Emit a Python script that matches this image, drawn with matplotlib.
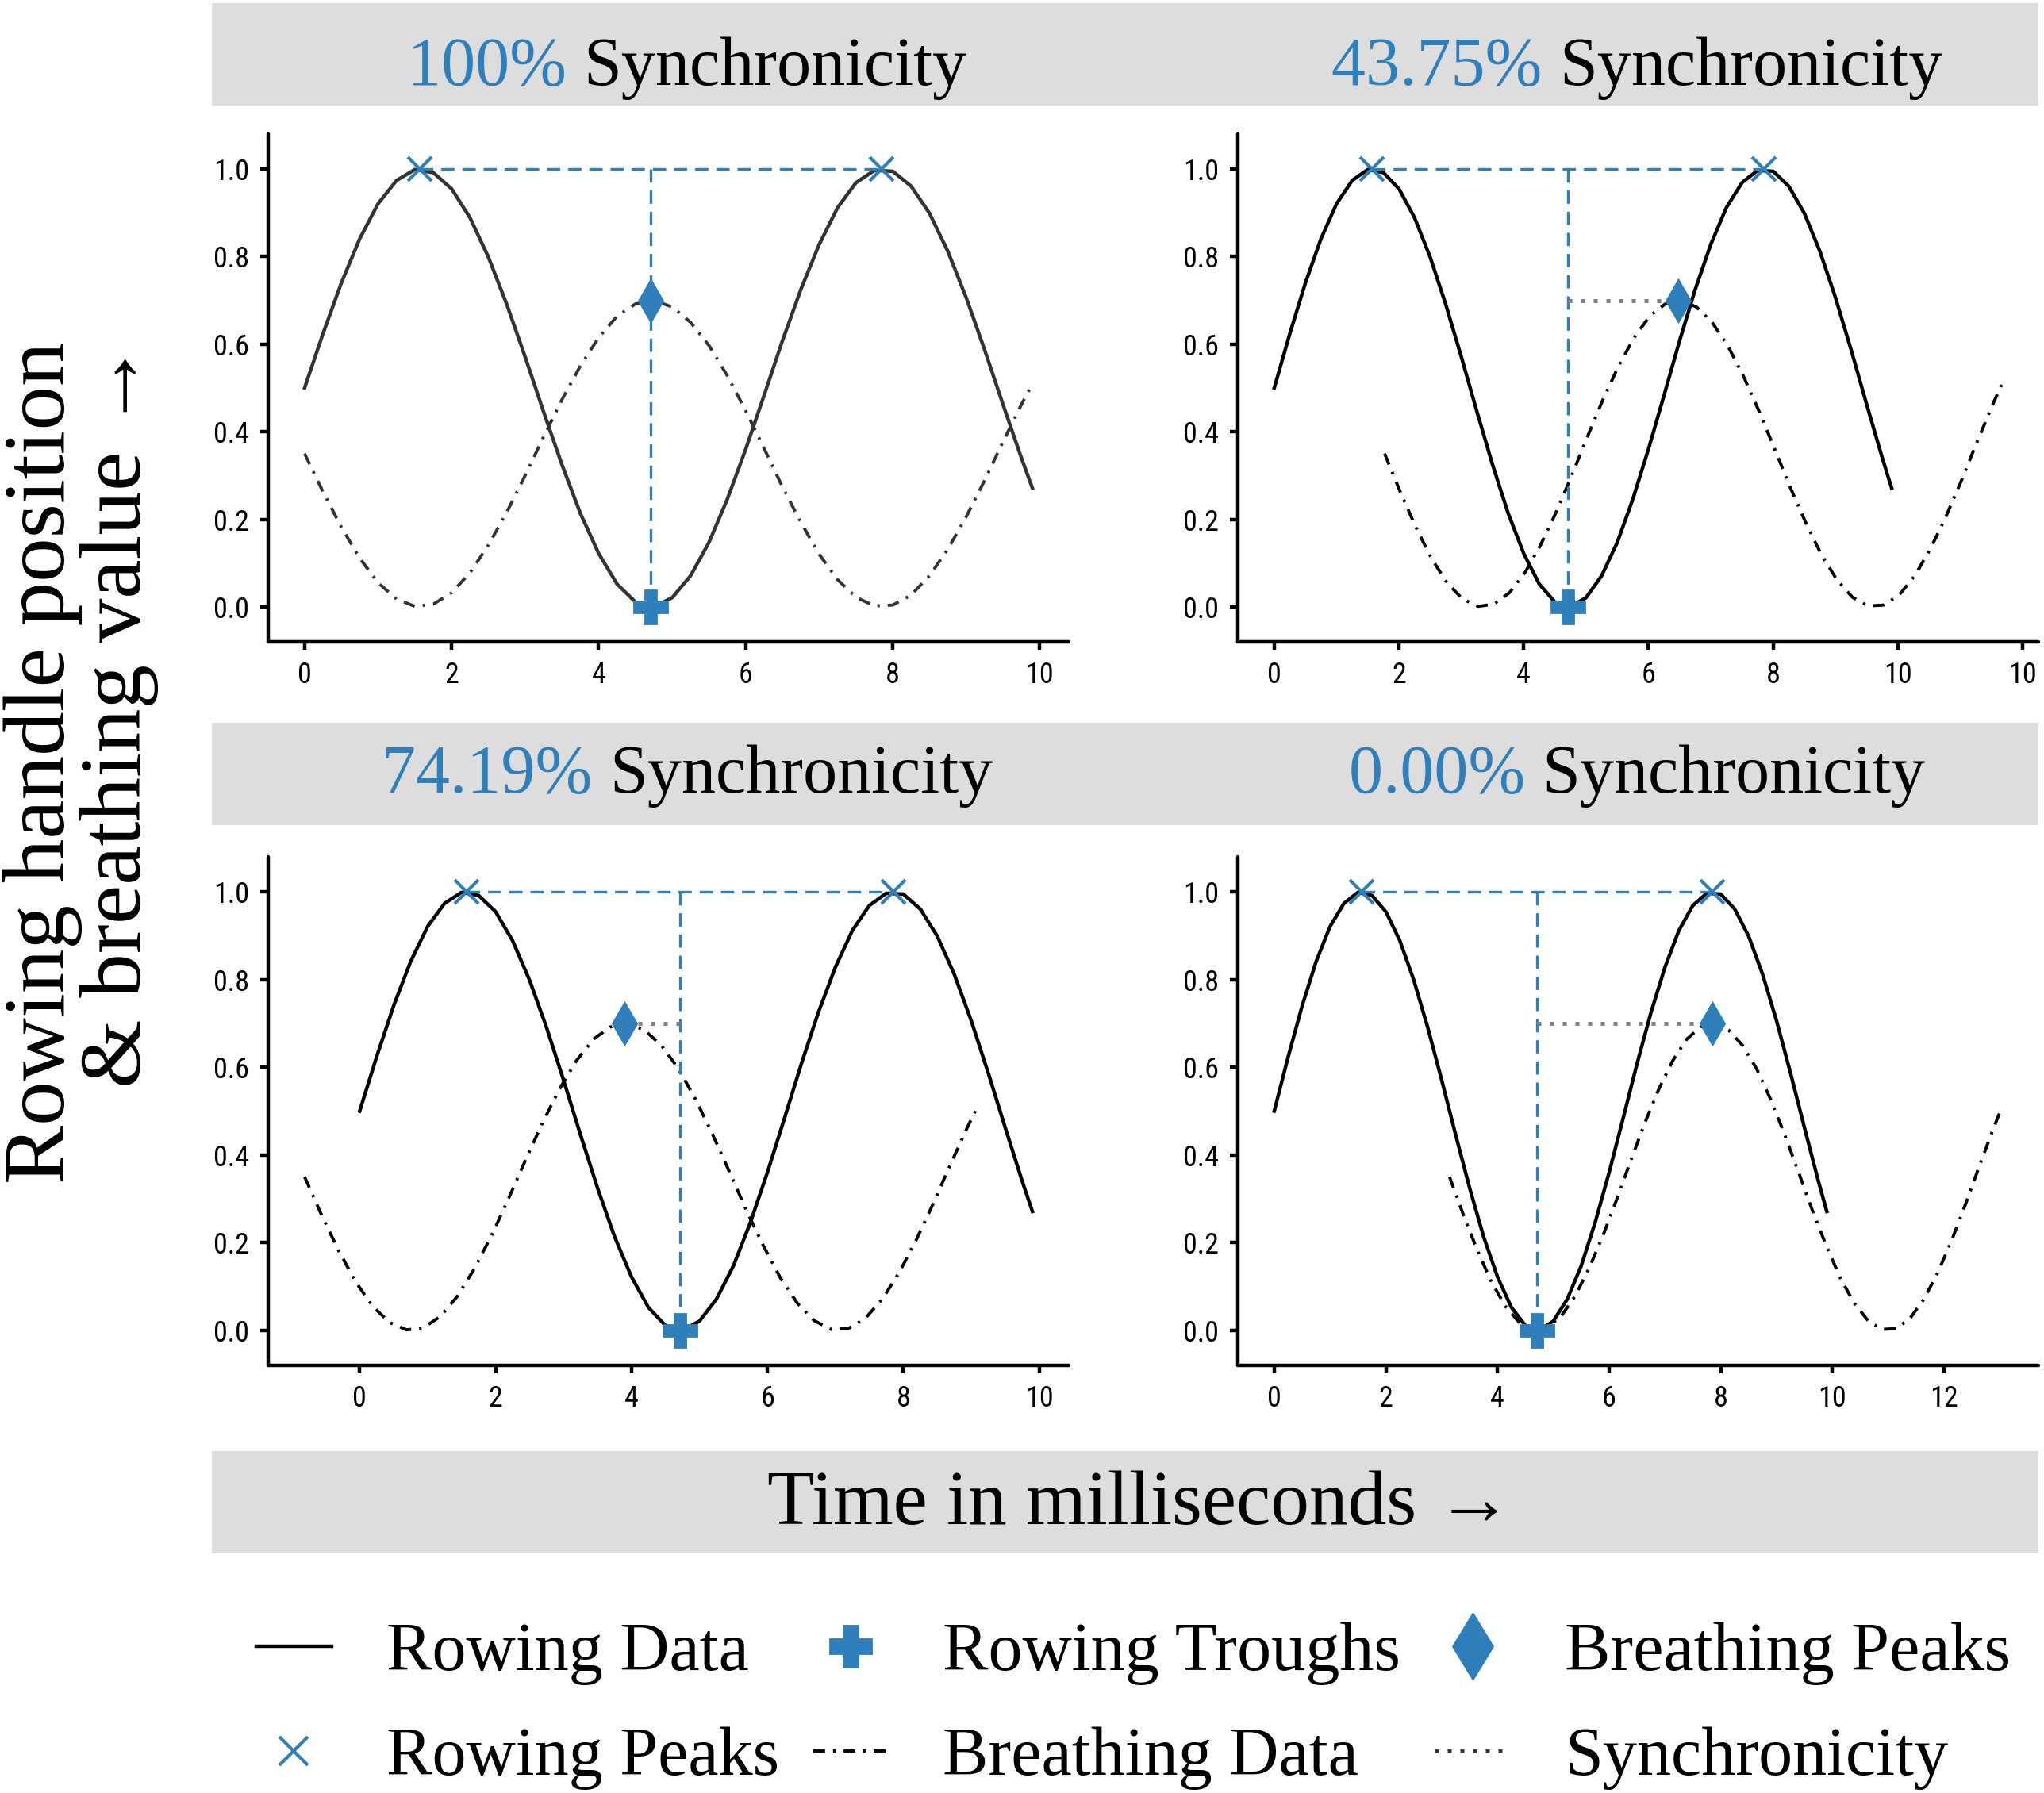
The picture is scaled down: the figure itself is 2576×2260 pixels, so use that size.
import matplotlib
matplotlib.use("Agg")
import matplotlib.pyplot as plt
from matplotlib.lines import Line2D
from matplotlib.patches import Rectangle
from matplotlib.ticker import FormatStrFormatter

time_ms = [0.0, 0.25, 0.5, 0.75, 1.0, 1.25, 1.5, 1.75, 2.0, 2.25, 2.5, 2.75,
           3.0, 3.25, 3.5, 3.75, 4.0, 4.25, 4.5, 4.75, 5.0, 5.25, 5.5, 5.75,
           6.0, 6.25, 6.5, 6.75, 7.0, 7.25, 7.5, 7.75, 8.0, 8.25, 8.5, 8.75,
           9.0, 9.25, 9.5, 9.75, 9.9]
rowing = [0.500, 0.624, 0.740, 0.841, 0.921, 0.974, 0.999, 0.992, 0.955, 0.889,
          0.799, 0.691, 0.571, 0.446, 0.325, 0.214, 0.122, 0.052, 0.011, 0.000,
          0.021, 0.071, 0.147, 0.246, 0.360, 0.483, 0.608, 0.725, 0.828, 0.912,
          0.969, 0.997, 0.995, 0.961, 0.899, 0.812, 0.706, 0.587, 0.462, 0.340,
          0.271]
breathing = [0.350, 0.263, 0.182, 0.111, 0.055, 0.018, 0.001, 0.006, 0.032, 0.078,
             0.141, 0.216, 0.300, 0.388, 0.473, 0.550, 0.615, 0.664, 0.692, 0.700,
             0.685, 0.650, 0.597, 0.528, 0.448, 0.362, 0.274, 0.193, 0.120, 0.062,
             0.022, 0.002, 0.004, 0.027, 0.071, 0.132, 0.206, 0.289, 0.377, 0.462,
             0.510]

sync_pct = ["100%", "43.75%", "74.19%", "0.00%"]
breathing_shift = [0.0, 1.77, -0.81, 3.14]   # breathing lag per panel (ms)
rowing_peak_t = [1.57, 7.85]
rowing_peak_y = [1.0, 1.0]
rowing_trough_t = 4.71
rowing_trough_y = 0.0
breathing_peak_t = [4.71, 6.48, 3.90, 7.85]
breathing_peak_y = 0.70

x_ticks = [[0, 2, 4, 6, 8, 10], [0, 2, 4, 6, 8, 10, 12],
           [0, 2, 4, 6, 8, 10], [0, 2, 4, 6, 8, 10, 12]]
x_tick_labels = [["0", "2", "4", "6", "8", "10"],
                 ["0", "2", "4", "6", "8", "10", "10"],
                 ["0", "2", "4", "6", "8", "10"],
                 ["0", "2", "4", "6", "8", "10", "12"]]
y_ticks = [0.0, 0.2, 0.4, 0.6, 0.8, 1.0]

blue = "#2E7FBA"
strip = "#DDDDDD"
serif = ["Liberation Serif", "DejaVu Serif"]
narrow = ["Liberation Sans Narrow", "Roboto Condensed", "Open Sans Condensed",
          "Liberation Sans"]

W, H = 2576, 2260
fig = plt.figure(figsize=(W / 200, H / 200), dpi=200)

# axes boxes in pixels (left, top, right, bottom)
boxes = [(338, 169, 1347, 809), (1560, 169, 2569, 809),
         (338, 1080, 1347, 1721), (1560, 1080, 2569, 1721)]
line_cols = ["#333333", "black", "black", "black"]

for i, (l, t, r, b) in enumerate(boxes):
    ax = fig.add_axes([l / W, 1 - b / H, (r - l) / W, (b - t) / H])
    c = line_cols[i]
    bx = [v + breathing_shift[i] for v in time_ms]
    ax.plot(bx, breathing, color=c, lw=1.4, ls=(0, (3.8, 2.6, 0.8, 2.6)), zorder=2)
    ax.plot(time_ms, rowing, color=c, lw=1.6, zorder=2)
    ax.plot(rowing_peak_t, rowing_peak_y, color=blue, lw=1.2, ls=(0, (5, 3)), zorder=3)
    ax.plot([rowing_trough_t, rowing_trough_t], [rowing_peak_y[0], rowing_trough_y],
            color=blue, lw=1.2, ls=(0, (5, 3)), zorder=3)
    ax.plot([rowing_trough_t, breathing_peak_t[i]], [breathing_peak_y, breathing_peak_y],
            color="#808080", lw=1.8, ls=(0, (1, 2.2)), zorder=3)
    ax.plot(rowing_peak_t, rowing_peak_y, ls="none", marker="x", ms=11, mew=1.5,
            color=blue, zorder=4)
    ax.plot([rowing_trough_t], [rowing_trough_y], ls="none", marker="P", ms=15,
            color=blue, zorder=4)
    ax.plot([breathing_peak_t[i]], [breathing_peak_y], ls="none", marker="d", ms=13,
            color=blue, zorder=4)

    ax.set_ylim(-0.08, 1.08)
    ax.set_yticks(y_ticks)
    ax.yaxis.set_major_formatter(FormatStrFormatter("%.1f"))
    ax.set_xticks(x_ticks[i])
    ax.set_xticklabels(x_tick_labels[i])
    for s in ["top", "right"]:
        ax.spines[s].set_visible(False)
    for s in ["left", "bottom"]:
        ax.spines[s].set_linewidth(1.6)
        ax.spines[s].set_capstyle("round")
    ax.tick_params(length=3.6, width=1.6, pad=5, labelsize=13)
    for lab in ax.get_xticklabels() + ax.get_yticklabels():
        lab.set_family(narrow)

# grey strips: two panel-title rows and the x-label row
for top, bot in [(4, 133), (911, 1040), (1829, 1958)]:
    fig.add_artist(Rectangle((267 / W, 1 - bot / H), (2569 - 267) / W, (bot - top) / H,
                             transform=fig.transFigure, facecolor=strip,
                             edgecolor="none", zorder=0))

renderer = fig.canvas.get_renderer()
title_pos = [(866, 107), (2063, 107), (866, 999), (2063, 999)]
for i, (cx, base) in enumerate(title_pos):
    t1 = fig.text(0, 1 - base / H, sync_pct[i] + " ", color=blue, fontsize=31,
                  family=serif, ha="left", va="baseline")
    t2 = fig.text(0, 1 - base / H, "Synchronicity", color="black", fontsize=31,
                  family=serif, ha="left", va="baseline")
    w1 = t1.get_window_extent(renderer).width
    w2 = t2.get_window_extent(renderer).width
    x0 = cx - (w1 + w2) / 2
    t1.set_x(x0 / W)
    t2.set_x((x0 + w1) / W)

fig.text(1437 / W, 1 - 1921 / H, "Time in milliseconds \u2192", fontsize=35,
         family=serif, ha="center", va="baseline")
fig.text(102 / W, 1 - 961 / H, "Rowing handle position\n& breathing value \u2192",
         fontsize=40, family=serif, rotation=90, ha="center", va="center",
         multialignment="right", linespacing=0.95)

handles = [
    Line2D([], [], color="black", lw=1.6),
    Line2D([], [], ls="none", marker="x", ms=13, mew=1.5, color=blue),
    Line2D([], [], ls="none", marker="P", ms=19, color=blue),
    Line2D([], [], color="black", lw=1.4, ls=(0, (3.8, 2.6, 0.8, 2.6))),
    Line2D([], [], ls="none", marker="d", ms=21, color=blue),
    Line2D([], [], color="#333333", lw=1.8, ls=(0, (1, 2.2))),
]
labels = ["Rowing Data", "Rowing Peaks", "Rowing Troughs", "Breathing Data",
          "Breathing Peaks", "Synchronicity"]
fig.legend(handles, labels, ncol=3, loc="upper left",
           bbox_to_anchor=(323 / W, 1 - 2045 / H), frameon=False,
           prop={"family": serif, "size": 31}, handlelength=1.1,
           handletextpad=0.8, columnspacing=0.5, labelspacing=0.6,
           borderpad=0, borderaxespad=0)

fig.savefig("out.png", dpi=200)
